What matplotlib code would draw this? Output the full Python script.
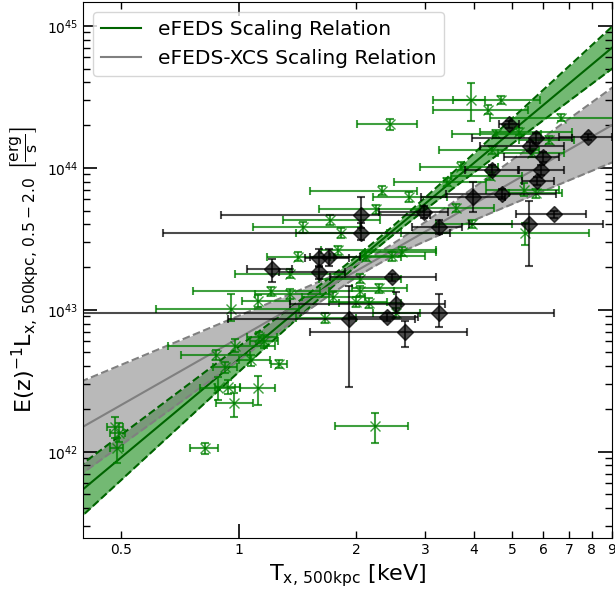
import numpy as np
import matplotlib
matplotlib.use('Agg')
import matplotlib.pyplot as plt
from matplotlib.ticker import FixedLocator, FixedFormatter

# eFEDS clusters: T [keV] with lower/upper bounds, L [1e43 erg/s] with bounds
green_T = [0.484, 0.495, 0.490, 0.820, 0.886, 0.939, 0.975, 1.120, 1.270, 0.875,
           0.923, 0.978, 1.075, 0.957, 1.120, 1.130, 1.210, 1.420, 1.350, 1.460,
           1.710, 1.830, 1.790, 2.320, 2.730, 2.250, 2.620, 2.470, 2.120, 2.040,
           1.350, 1.740, 2.040, 2.290, 2.160, 2.530, 2.000, 1.660, 2.430, 3.920,
           4.690, 4.340, 6.650, 5.220, 4.540, 4.430, 5.630, 6.220, 3.710, 4.380,
           5.370, 5.740, 3.600, 3.960, 5.400, 3.400, 1.160, 2.230]
green_T_lo = [0.461, 0.469, 0.469, 0.751, 0.797, 0.870, 0.875, 1.008, 1.210, 0.713,
              0.860, 0.660, 1.000, 0.615, 1.020, 1.050, 0.765, 1.180, 0.980, 1.090,
              1.300, 1.400, 1.620, 1.520, 2.200, 1.600, 2.100, 2.050, 1.750, 1.600,
              1.100, 1.450, 1.700, 1.950, 1.800, 2.200, 1.700, 1.400, 2.010, 3.530,
              3.130, 3.130, 4.380, 4.130, 3.520, 3.260, 4.600, 5.200, 2.900, 3.500,
              4.300, 4.900, 2.900, 3.200, 2.600, 2.500, 1.070, 1.760]
green_T_hi = [0.507, 0.513, 0.507, 0.886, 0.980, 1.010, 1.090, 1.240, 1.330, 1.070,
              0.990, 1.240, 1.200, 1.430, 1.350, 1.250, 1.610, 1.710, 1.870, 2.040,
              2.300, 2.400, 3.200, 2.850, 3.400, 2.900, 3.200, 3.000, 2.600, 2.600,
              1.700, 2.100, 2.500, 2.700, 2.600, 2.900, 2.400, 2.000, 2.860, 4.270,
              5.900, 5.500, 9.600, 7.100, 5.940, 5.870, 6.800, 7.200, 4.600, 5.300,
              6.600, 6.700, 4.500, 5.000, 7.880, 4.300, 1.260, 2.710]
green_L = [0.149, 0.135, 0.106, 0.106, 0.281, 0.285, 0.220, 0.281, 0.415, 0.480,
           0.395, 0.560, 0.440, 1.020, 1.160, 0.640, 1.350, 2.370, 1.800, 3.820,
           4.280, 3.470, 2.630, 6.900, 6.200, 5.120, 2.560, 2.390, 2.370, 1.660,
           1.300, 1.230, 1.360, 1.420, 1.120, 0.950, 1.140, 0.880, 20.30, 30.00,
           29.80, 25.70, 22.50, 17.90, 17.30, 13.30, 12.70, 15.70, 10.20, 8.740,
           6.970, 6.600, 5.200, 4.010, 3.470, 7.900, 0.600, 0.152]
green_L_lo = [0.125, 0.117, 0.083, 0.097, 0.230, 0.255, 0.176, 0.215, 0.390, 0.440,
              0.360, 0.500, 0.400, 0.840, 1.050, 0.580, 1.250, 2.200, 1.680, 3.500,
              3.950, 3.200, 2.450, 6.400, 5.700, 4.750, 2.380, 2.220, 2.200, 1.540,
              1.200, 1.140, 1.260, 1.310, 1.030, 0.880, 1.050, 0.810, 18.50, 21.30,
              28.00, 24.00, 21.30, 17.00, 16.30, 12.50, 11.90, 14.70, 9.600, 8.200,
              6.300, 6.100, 4.850, 3.750, 2.860, 7.400, 0.540, 0.115]
green_L_hi = [0.176, 0.160, 0.125, 0.116, 0.335, 0.320, 0.259, 0.341, 0.440, 0.520,
              0.430, 0.620, 0.480, 1.290, 1.270, 0.700, 1.450, 2.550, 1.930, 4.150,
              4.650, 3.750, 2.800, 7.500, 6.700, 5.500, 2.750, 2.570, 2.550, 1.790,
              1.400, 1.330, 1.470, 1.530, 1.210, 1.030, 1.230, 0.950, 22.00, 39.50,
              32.00, 27.50, 24.00, 19.00, 18.40, 14.20, 13.50, 16.80, 10.90, 9.300,
              7.800, 7.100, 5.550, 4.300, 4.100, 8.450, 0.660, 0.188]

# eFEDS-XCS clusters
black_T = [1.22, 1.60, 1.70, 1.60, 2.06, 2.06, 2.46, 2.52, 2.39, 1.92, 2.66, 3.26, 2.97,
           3.26, 3.97, 4.70, 4.43, 4.90, 5.77, 5.56, 6.00, 5.94, 5.80, 7.80, 6.41, 5.54]
black_T_lo = [1.05, 1.48, 1.52, 1.27, 0.90, 0.64, 1.71, 1.35, 1.92, 0.94, 1.52, 0.35, 2.29,
              2.77, 2.93, 3.39, 3.78, 4.64, 3.95, 4.13, 4.78, 5.22, 5.30, 6.60, 5.13, 3.89]
black_T_hi = [1.37, 1.92, 2.04, 1.87, 3.08, 3.46, 3.20, 3.36, 2.87, 2.82, 3.83, 6.41, 3.42,
              3.73, 4.80, 6.48, 5.18, 5.22, 7.10, 6.80, 6.60, 6.80, 6.41, 9.00, 7.74, 8.56]
black_L = [1.93, 2.31, 2.35, 1.84, 4.64, 3.47, 1.70, 1.10, 0.889, 0.86, 0.697, 0.95, 4.88,
           3.82, 6.22, 6.53, 9.63, 20.3, 16.2, 14.2, 11.9, 9.63, 8.06, 16.5, 4.70, 4.00]
black_L_lo = [1.57, 2.00, 2.05, 1.65, 3.75, 3.10, 1.60, 0.948, 0.83, 0.285, 0.546, 0.75, 4.40,
              3.40, 4.88, 6.00, 8.90, 19.0, 15.0, 13.2, 11.0, 8.90, 7.60, 15.7, 4.40, 2.03]
black_L_hi = [2.27, 2.70, 2.70, 2.05, 6.20, 4.10, 1.80, 1.33, 0.95, 1.46, 0.84, 1.29, 5.40,
              4.30, 7.90, 7.10, 10.4, 21.5, 17.5, 15.2, 12.9, 10.5, 8.60, 17.4, 5.00, 5.80]

# scaling relations: log10 L = norm + slope*log10(T/2keV), scatter of band
efeds_norm, efeds_slope = 43.343, 2.30
efeds_s0, efeds_s1, efeds_piv = 0.03, 0.24, 0.35
xcs_norm, xcs_slope = 43.274, 1.571
xcs_s0, xcs_s1, xcs_piv = 0.04, 0.43, 0.35

plt.rcParams['mathtext.default'] = 'regular'

fig = plt.figure(figsize=(6.15, 5.96), dpi=100)
ax = fig.add_axes([0.135, 0.097, 0.86, 0.8995])

T = np.logspace(np.log10(0.35), np.log10(10), 300)
lt = np.log10(T)

def band(norm, slope, s0, s1, piv):
    mid = norm + slope * (lt - np.log10(2))
    w = np.sqrt(s0**2 + (s1 * (lt - piv))**2)
    return 10**mid, 10**(mid - w), 10**(mid + w)

mid, lo, hi = band(efeds_norm, efeds_slope, efeds_s0, efeds_s1, efeds_piv)
ax.fill_between(T, lo, hi, color='green', alpha=0.55, lw=0, zorder=1)
ax.plot(T, lo, '--', color='darkgreen', lw=1.5, zorder=2)
ax.plot(T, hi, '--', color='darkgreen', lw=1.5, zorder=2)
ax.plot(T, mid, '-', color='darkgreen', lw=1.5, zorder=2, label='eFEDS Scaling Relation')

mid, lo, hi = band(xcs_norm, xcs_slope, xcs_s0, xcs_s1, xcs_piv)
ax.fill_between(T, lo, hi, color='gray', alpha=0.55, lw=0, zorder=1)
ax.plot(T, lo, '--', color='gray', lw=1.5, zorder=2)
ax.plot(T, hi, '--', color='gray', lw=1.5, zorder=2)
ax.plot(T, mid, '-', color='gray', lw=1.5, zorder=2, label='eFEDS-XCS Scaling Relation')

gT = np.array(green_T)
gL = np.array(green_L) * 1e43
ax.errorbar(gT, gL,
            xerr=[gT - np.array(green_T_lo), np.array(green_T_hi) - gT],
            yerr=[gL - np.array(green_L_lo) * 1e43, np.array(green_L_hi) * 1e43 - gL],
            fmt='x', color='green', alpha=0.75, ms=7, elinewidth=1.5, capsize=3,
            capthick=1.5, zorder=3)

bT = np.array(black_T)
bL = np.array(black_L) * 1e43
ax.errorbar(bT, bL,
            xerr=[bT - np.array(black_T_lo), np.array(black_T_hi) - bT],
            yerr=[bL - np.array(black_L_lo) * 1e43, np.array(black_L_hi) * 1e43 - bL],
            fmt='D', color='k', alpha=0.7, ms=8, elinewidth=1.5, capsize=3,
            capthick=1.5, zorder=4)

ax.set_xscale('log')
ax.set_yscale('log')
ax.set_xlim(0.4, 9)
ax.set_ylim(2.46e41, 1.47e45)

ax.xaxis.set_major_locator(FixedLocator([1]))
ax.xaxis.set_major_formatter(FixedFormatter(['1']))
minor = [0.5, 2, 3, 4, 5, 6, 7, 8, 9]
ax.xaxis.set_minor_locator(FixedLocator(minor))
ax.xaxis.set_minor_formatter(FixedFormatter(['0.5', '2', '3', '4', '5', '6', '7', '8', '9']))

ax.tick_params(which='both', direction='in', top=True, right=True, labelsize=10)
ax.tick_params(which='major', length=10, width=1.2)
ax.tick_params(which='minor', length=5, width=1)

ax.set_xlabel('$T_{x,\\,500kpc}$ [keV]', fontsize=16)
ax.set_ylabel('$E(z)^{-1}L_{x,\\,500kpc,\\,0.5-2.0}$ $\\left[\\frac{erg}{s}\\right]$', fontsize=16)

ax.legend(loc='upper left', fontsize=14.5)

fig.savefig('out.png', dpi=100)
